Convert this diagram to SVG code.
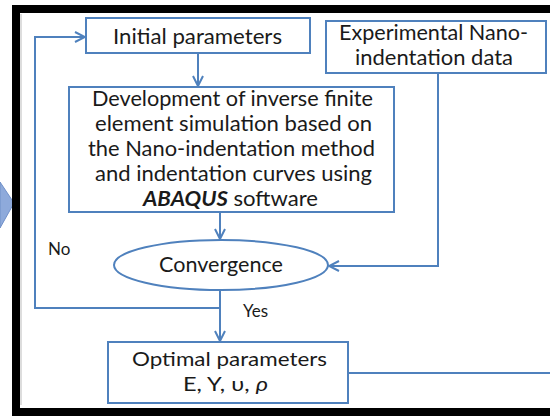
<svg xmlns="http://www.w3.org/2000/svg" width="550" height="416" viewBox="0 0 550 416">
<defs>
<style>
.box{fill:#fff;stroke:#4f81bd;stroke-width:2}
.ln{fill:none;stroke:#4f81bd;stroke-width:2}
.t{font-family:Lato,"Liberation Sans",sans-serif;font-size:21.5px;fill:#1a1a1a;text-anchor:middle}
.o{font-size:20px}
.s{font-family:Lato,"Liberation Sans",sans-serif;font-size:17px;fill:#1a1a1a}
</style>
<marker id="ah" viewBox="0 0 12 12" refX="11" refY="6" markerWidth="12" markerHeight="12" markerUnits="userSpaceOnUse" orient="auto">
<path d="M1,1 L11,6 L1,11" fill="none" stroke="#4f81bd" stroke-width="2"/>
</marker>
</defs>
<rect width="550" height="416" fill="#fff"/>
<polygon points="0,182 14,203 0,228" fill="#8eaadb" stroke="#6f8fc8" stroke-width="1"/>
<path d="M16,416 V9 H550" fill="none" stroke="#000" stroke-width="8"/>
<rect x="12" y="408" width="538" height="8" fill="#000"/>
<line x1="21" y1="14" x2="21" y2="405" stroke="#bbb" stroke-width="1"/>
<g id="connectors">
<path class="ln" d="M198,53 V86" marker-end="url(#ah)"/>
<path class="ln" d="M220,212 V239" marker-end="url(#ah)"/>
<path class="ln" d="M438,73 V266 H329" marker-end="url(#ah)"/>
<path class="ln" d="M220,290 V341" marker-end="url(#ah)"/>
<path class="ln" d="M220,308 H35 V37 H85" marker-end="url(#ah)"/>
<path class="ln" d="M348,373 H550"/>
</g>
<g id="initial">
<rect class="box" x="86" y="18" width="224" height="35"/>
<text class="t" x="197.5" y="44" textLength="169" lengthAdjust="spacingAndGlyphs">Initial parameters</text>
</g>
<g id="experimental">
<rect class="box" x="326" y="21" width="220" height="52"/>
<text class="t" x="433.5" y="40" textLength="189" lengthAdjust="spacingAndGlyphs">Experimental Nano-</text>
<text class="t" x="434" y="65" textLength="158" lengthAdjust="spacingAndGlyphs">indentation data</text>
</g>
<g id="development">
<rect class="box" x="69" y="87" width="325" height="125"/>
<text class="t" x="232.5" y="106" textLength="281" lengthAdjust="spacingAndGlyphs">Development of inverse finite</text>
<text class="t" x="233.5" y="131" textLength="277" lengthAdjust="spacingAndGlyphs">element simulation based on</text>
<text class="t" x="231.5" y="156" textLength="287" lengthAdjust="spacingAndGlyphs">the Nano-indentation method</text>
<text class="t" x="233.5" y="181" textLength="277" lengthAdjust="spacingAndGlyphs">and indentation curves using</text>
<text class="t" x="230.5" y="206" textLength="175" lengthAdjust="spacingAndGlyphs"><tspan font-weight="bold" font-style="italic">ABAQUS</tspan> software</text>
</g>
<g id="convergence">
<ellipse class="box" cx="221" cy="265" rx="107" ry="25"/>
<text class="t" x="221" y="272" textLength="124" lengthAdjust="spacingAndGlyphs">Convergence</text>
</g>
<g id="optimal">
<rect class="box" x="108" y="342" width="240" height="61"/>
<text class="t o" x="229.5" y="366" textLength="195" lengthAdjust="spacingAndGlyphs">Optimal parameters</text>
<text class="t o" x="225.5" y="391" textLength="85" lengthAdjust="spacingAndGlyphs">E, Y, υ, <tspan font-style="italic">ρ</tspan></text>
</g>
<text class="s" x="48" y="255">No</text>
<text class="s" x="243" y="317">Yes</text>
</svg>
